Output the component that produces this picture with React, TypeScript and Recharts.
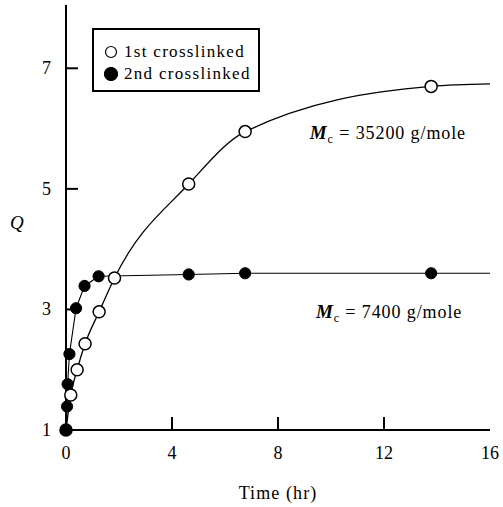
import React from 'react';
import { ComposedChart, Line, XAxis, YAxis, Legend, ReferenceDot } from 'recharts';

// Swelling ratio Q against time for the two crosslinking stages
const FIRST_TIME = [0, 0.18, 0.42, 0.72, 1.25, 1.83, 4.63, 6.76, 13.78];
const FIRST_Q = [1, 1.58, 2.0, 2.43, 2.96, 3.52, 5.08, 5.95, 6.7];
const SECOND_TIME = [0, 0.04, 0.06, 0.13, 0.38, 0.7, 1.23, 4.63, 6.76, 13.78];
const SECOND_Q = [1, 1.39, 1.76, 2.26, 3.02, 3.39, 3.55, 3.58, 3.6, 3.6];

// plateau levels the fitted curves run out to at the end of the time axis
const FIRST_END = { time: 16, q: 6.74 };
const SECOND_END = { time: 16, q: 3.6 };

const SERIES_NAMES = ['1st crosslinked', '2nd crosslinked'];
const X_TICKS = [0, 4, 8, 12, 16];
const Y_TICKS = [1, 3, 5, 7];

// Mc annotations: anchor position (time, Q) and the value text
const MC_NOTES = [
  { time: 9.2, q: 5.83, value: '35200 g/mole' },
  { time: 9.43, q: 2.86, value: '7400 g/mole' },
];

const FONT = '"Liberation Serif", "Times New Roman", serif';

const toRows = (t: number[], q: number[]) => t.map((time, i) => ({ time, q: q[i] }));
const firstPoints = toRows(FIRST_TIME, FIRST_Q);
const secondPoints = toRows(SECOND_TIME, SECOND_Q);
const firstCurve = [...firstPoints, FIRST_END];
const secondCurve = [...secondPoints, SECOND_END];

// With tickSize and tickMargin at 0 the tick anchor sits on the axis line,
// so each tick draws its own inward mark plus its label offset outward.
const XTick = (props: any) => {
  const { x, y, payload } = props;
  const v = payload.value;
  const inner = v !== X_TICKS[0] && v !== X_TICKS[X_TICKS.length - 1];
  return (
    <g>
      {inner && <line x1={x} y1={y} x2={x} y2={y - 13} stroke="#000" strokeWidth={2} />}
      <text x={x} y={y + 29} textAnchor="middle" fontFamily={FONT} fontSize={18} fill="#000">
        {v}
      </text>
    </g>
  );
};

const YTick = (props: any) => {
  const { x, y, payload } = props;
  const v = payload.value;
  const inner = v !== Y_TICKS[0];
  return (
    <g>
      {inner && <line x1={x} y1={y} x2={x + 12} y2={y} stroke="#000" strokeWidth={2} />}
      <text x={x - 15} y={y + 6} textAnchor="end" fontFamily={FONT} fontSize={18} fill="#000">
        {v}
      </text>
    </g>
  );
};

const LegendBox = () => (
  <div
    style={{
      position: 'relative',
      width: 168,
      height: 64,
      boxSizing: 'border-box',
      border: '2px solid #000',
      background: '#fff',
      fontFamily: FONT,
      fontSize: 17,
      letterSpacing: 1.3,
      color: '#000',
    }}
  >
    {SERIES_NAMES.map((name, i) => (
      <div key={name} style={{ position: 'absolute', left: 0, top: 12 + i * 22, height: 20, width: 166 }}>
        <svg width={14} height={14} style={{ position: 'absolute', left: 10, top: 3 }}>
          <circle cx={7} cy={7} r={i === 0 ? 5.5 : 6.5} fill={i === 0 ? '#fff' : '#000'} stroke="#000" strokeWidth={1.2} />
        </svg>
        <span style={{ position: 'absolute', left: 30, top: 0, lineHeight: '20px', whiteSpace: 'nowrap' }}>{name}</span>
      </div>
    ))}
  </div>
);

const McLabel = (value: string) => (props: any) => {
  const vb = props.viewBox || {};
  const x = vb.x + (vb.width || 0) / 2;
  const y = vb.y + (vb.height || 0) / 2;
  return (
    <text x={x} y={y} fontFamily={FONT} fontSize={18} fill="#000" letterSpacing={0.9}>
      <tspan fontStyle="italic" fontWeight="bold" fontSize={19}>M</tspan>
      <tspan fontSize={12} dy={4}>c</tspan>
      <tspan dy={-4}>{' = ' + value}</tspan>
    </text>
  );
};

const frameLine = { stroke: '#000', strokeWidth: 2 };

export default function App() {
  return (
    <div style={{ position: 'absolute', left: 0, top: 0, width: 503, height: 507, background: '#fff' }}>
      <ComposedChart width={503} height={507} margin={{ top: 5, right: 13, bottom: 0, left: 0 }}>
        <XAxis
          xAxisId="b"
          type="number"
          dataKey="time"
          domain={[0, 16]}
          ticks={X_TICKS}
          height={77}
          tickSize={0}
          tickMargin={0}
          tickLine={false}
          axisLine={frameLine}
          tick={<XTick />}
          interval={0}
          label={{ value: 'Time (hr)', position: 'insideBottom', offset: 8, fontFamily: FONT, fontSize: 18, fill: '#000', letterSpacing: 1.1 }}
        />
        <XAxis xAxisId="t" type="number" dataKey="time" orientation="top" domain={[0, 16]} height={0} tick={false} tickLine={false} axisLine={frameLine} />
        <YAxis
          yAxisId="l"
          type="number"
          domain={[1, 8.05]}
          ticks={Y_TICKS}
          width={66}
          tickSize={0}
          tickMargin={0}
          tickLine={false}
          axisLine={frameLine}
          tick={<YTick />}
          interval={0}
          label={{ value: 'Q', angle: 0, position: 'insideLeft', offset: 10, dy: 5, fontFamily: FONT, fontSize: 19, fontStyle: 'italic', fill: '#000' }}
        />
        <YAxis yAxisId="r" orientation="right" type="number" domain={[1, 8.05]} width={0} tick={false} tickLine={false} axisLine={frameLine} />

        <Legend layout="horizontal" verticalAlign="middle" align="center" wrapperStyle={{ left: 92, top: 28, width: 168, height: 64 }} content={<LegendBox />} />

        {/* fitted curves through the measurements */}
        <Line xAxisId="b" yAxisId="l" data={secondCurve} dataKey="q" type="linear" stroke="#000" strokeWidth={1.1} dot={false} isAnimationActive={false} legendType="none" />
        <Line xAxisId="b" yAxisId="l" data={firstCurve} dataKey="q" type="monotone" stroke="#000" strokeWidth={1.3} dot={false} isAnimationActive={false} legendType="none" />

        {/* measured points */}
        <Line xAxisId="b" yAxisId="l" data={firstPoints} dataKey="q" stroke="none" dot={{ r: 6, fill: '#fff', stroke: '#000', strokeWidth: 1.5 }} isAnimationActive={false} name={SERIES_NAMES[0]} />
        <Line xAxisId="b" yAxisId="l" data={secondPoints} dataKey="q" stroke="none" dot={{ r: 5.6, fill: '#000', stroke: '#000', strokeWidth: 1 }} isAnimationActive={false} name={SERIES_NAMES[1]} />

        {MC_NOTES.map((n) => (
          <ReferenceDot key={n.value} xAxisId="b" yAxisId="l" x={n.time} y={n.q} r={0} fill="none" stroke="none" label={McLabel(n.value)} />
        ))}
      </ComposedChart>
    </div>
  );
}
